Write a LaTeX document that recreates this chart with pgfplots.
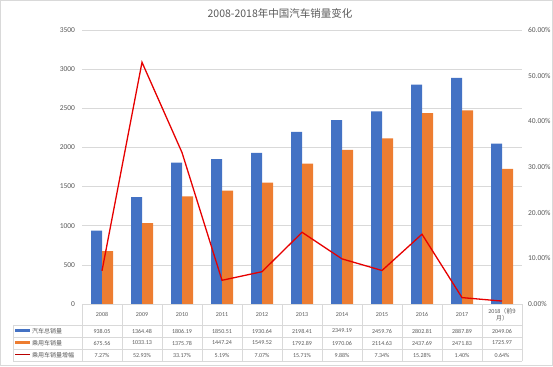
\documentclass[border=0pt]{standalone}
\usepackage{fontspec}
\setmainfont{Carlito}
\newfontfamily\cjk{Noto Sans CJK SC}
\usepackage{pgfplots}
\usepackage{pgfplotstable}
\pgfplotsset{compat=1.18}
\definecolor{cblue}{RGB}{68,114,196}
\definecolor{corange}{RGB}{237,125,49}
\definecolor{cred}{RGB}{230,0,0}
\definecolor{txt}{RGB}{89,89,89}
\definecolor{gridc}{RGB}{217,217,217}

\pgfplotstableread{
x total pass growth
0 938.05 675.56 7.27
1 1364.48 1033.13 52.93
2 1806.19 1375.78 33.17
3 1850.51 1447.24 5.19
4 1930.64 1549.52 7.07
5 2198.41 1792.89 15.71
6 2349.19 1970.06 9.88
7 2459.76 2114.63 7.34
8 2802.81 2437.69 15.28
9 2887.89 2471.83 1.40
10 2049.06 1725.97 0.64
}\data

\begin{document}
\begin{tikzpicture}[x=1pt,y=1pt]
\useasboundingbox (0,0) rectangle (553,366);
\draw[gridc, line width=0.8pt] (0.6,0.6) rectangle (552.4,365.4);
\node[font=\cjk\fontsize{10.5}{12}\selectfont, text=txt] at (280,353) {2008-2018年中国汽车销量变化};

\begin{axis}[at={(82pt,62pt)}, anchor=south west, width=440pt, height=274pt, scale only axis,
  xmin=-0.5, xmax=10.5, ymin=0, ymax=3500, ytick={0,500,...,3500},
  xtick={0,...,10},
  xticklabels={2008,2009,2010,2011,2012,2013,2014,2015,2016,2017,{2018{\cjk（前9}\\{\cjk 月）}}},
  axis line style={draw=none}, major tick length=0pt,
  ymajorgrids, grid style={gridc, line width=0.6pt},
  yticklabel style={font=\fontsize{7.5}{9}\selectfont, text=txt, xshift=-3.5pt},
  /pgf/number format/1000 sep={}, /pgf/number format/assume math mode=true,
  xticklabel style={anchor=center, yshift=-10.5pt, font=\fontsize{6}{7.5}\selectfont, text=txt, align=center},
  ybar, bar width=11pt, clip=false]
\addplot[fill=cblue, draw=none, bar shift=-5.5pt] table[x=x,y=total]{\data};
\addplot[fill=corange, draw=none, bar shift=5.5pt] table[x=x,y=pass]{\data};
\end{axis}

\begin{axis}[at={(82pt,62pt)}, anchor=south west, width=440pt, height=274pt, scale only axis,
  xmin=-0.5, xmax=10.5, ymin=0, ymax=60, ytick={0,10,...,60},
  axis y line*=right, hide x axis, axis line style={draw=none}, major tick length=0pt,
  /pgf/number format/assume math mode=true,
  yticklabel={\pgfmathprintnumber[fixed,fixed zerofill,precision=2]{\tick}\%},
  yticklabel style={font=\fontsize{7.5}{9}\selectfont, text=txt, xshift=2.5pt}]
\addplot[cred, line width=1.3pt, mark=none] table[x=x,y=growth]{\data};
\end{axis}

% data table
\draw[gridc] (82,62) -- (522,62);
\foreach \y in {41,29,17,5} \draw[gridc] (13,\y) -- (522,\y);
\draw[gridc] (13,41) -- (13,5);
\foreach \k in {0,...,11} \draw[gridc] ({82+40*\k},62) -- ({82+40*\k},5);

\draw[cblue, line width=3pt] (15,35) -- (30,35);
\draw[corange, line width=3pt] (15,23) -- (30,23);
\draw[cred!80!black, line width=1pt] (15,11) -- (30,11);
\begin{scope}[every node/.style={font=\cjk\fontsize{6}{7}\selectfont, text=txt, anchor=west, inner sep=0pt}]
\node at (32,35) {汽车总销量};
\node at (32,23) {乘用车销量};
\node at (32,11) {乘用车销量增幅};
\end{scope}
\begin{scope}[every node/.style={font=\fontsize{6}{7}\selectfont, text=txt, inner sep=0pt}]
\foreach \v [count=\i from 0] in {938.05,1364.48,1806.19,1850.51,1930.64,2198.41,2349.19,2459.76,2802.81,2887.89,2049.06}
  \node at ({102+40*\i},35) {\v};
\foreach \v [count=\i from 0] in {675.56,1033.13,1375.78,1447.24,1549.52,1792.89,1970.06,2114.63,2437.69,2471.83,1725.97}
  \node at ({102+40*\i},23) {\v};
\foreach \v [count=\i from 0] in {7.27,52.93,33.17,5.19,7.07,15.71,9.88,7.34,15.28,1.40,0.64}
  \node at ({102+40*\i},11) {\v\%};
\end{scope}
\end{tikzpicture}
\end{document}
